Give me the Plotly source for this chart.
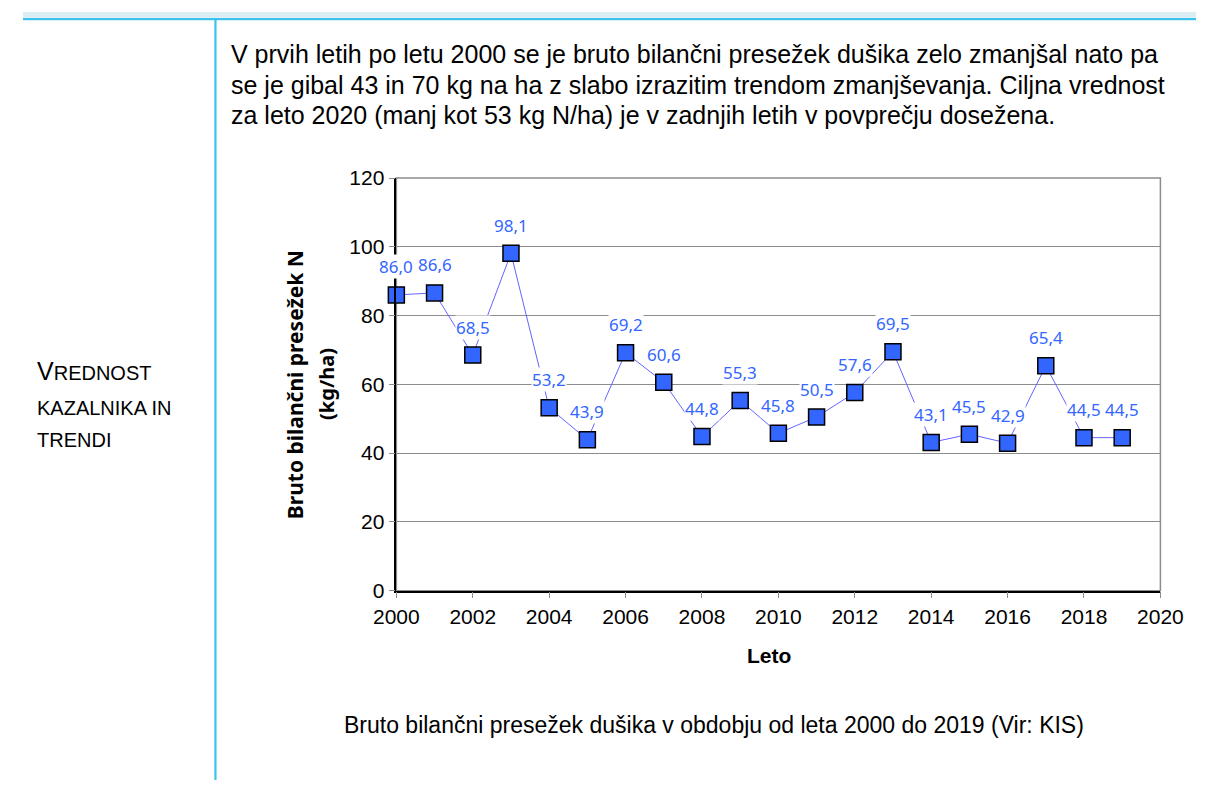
import plotly.graph_objects as go

years = list(range(2000, 2020))
surplus = [86.0, 86.6, 68.5, 98.1, 53.2, 43.9, 69.2, 60.6, 44.8, 55.3,
           45.8, 50.5, 57.6, 69.5, 43.1, 45.5, 42.9, 65.4, 44.5, 44.5]
labels = [f"{v:.1f}".replace(".", ",") for v in surplus]
x_ticks = list(range(2000, 2021, 2))
y_ticks = list(range(0, 121, 20))

paragraph = [
    "V prvih letih po letu 2000 se je bruto bilančni presežek dušika zelo zmanjšal nato pa",
    "se je gibal 43 in 70 kg na ha z slabo izrazitim trendom zmanjševanja. Ciljna vrednost",
    "za leto 2020 (manj kot 53 kg N/ha) je v zadnjih letih v povprečju dosežena.",
]
caption = "Bruto bilančni presežek dušika v obdobju od leta 2000 do 2019 (Vir: KIS)"

W, H = 1219, 791
def px(x):
    return x / W
def py(y):
    return 1 - y / H

fig = go.Figure()
fig.add_trace(go.Scatter(
    x=years, y=surplus, mode="lines+markers",
    line=dict(color="#6464ff", width=1),
    marker=dict(symbol="square", size=16, color="#3366ff",
                line=dict(color="#000000", width=1.5)),
    hoverinfo="x+y", showlegend=False, cliponaxis=False,
))

annotations = []
for x, v, t in zip(years, surplus, labels):
    annotations.append(dict(
        x=x, y=v, xref="x", yref="y", text=t, showarrow=False,
        yshift=28, bgcolor="white", borderpad=0,
        font=dict(family="Noto Sans", size=17, color="#3366ff"),
    ))

SANS = "Liberation Sans, Arial"
para_y = [43, 75, 106]
for t, yy in zip(paragraph, para_y):
    annotations.append(dict(
        x=px(214), y=py(yy), xref="paper", yref="paper", text=t,
        xanchor="left", yanchor="middle", showarrow=False,
        font=dict(family=SANS, size=25, color="#000"),
    ))

left_lines = [
    ("<span style='font-size:25px'>V</span>REDNOST", 370),
    ("KAZALNIKA IN", 408),
    ("TRENDI", 441),
]
for t, yy in left_lines:
    annotations.append(dict(
        x=px(12), y=py(yy), xref="paper", yref="paper", text=t,
        xanchor="left", yanchor="middle", showarrow=False,
        font=dict(family=SANS, size=20, color="#000"),
    ))

annotations.append(dict(
    x=px(283), y=py(384), xref="paper", yref="paper",
    text="<b>Bruto bilančni presežek N</b>", textangle=-90,
    xanchor="center", yanchor="middle", showarrow=False,
    font=dict(family="Noto Sans", size=21, color="#000"),
))
annotations.append(dict(
    x=px(316), y=py(383), xref="paper", yref="paper",
    text="<b>(kg/ha)</b>", textangle=-90,
    xanchor="center", yanchor="middle", showarrow=False,
    font=dict(family="Noto Sans", size=20, color="#000"),
))
annotations.append(dict(
    x=px(775), y=py(663), xref="paper", yref="paper", text="<b>Leto</b>",
    xanchor="center", yanchor="middle", showarrow=False,
    font=dict(family=SANS, size=21, color="#000"),
))
annotations.append(dict(
    x=px(718), y=py(734), xref="paper", yref="paper", text=caption,
    xanchor="center", yanchor="middle", showarrow=False,
    font=dict(family=SANS, size=23, color="#000"),
))

shapes = [
    dict(type="rect", xref="paper", yref="paper", x0=0, x1=1, y0=py(6), y1=1,
         fillcolor="#daedf3", line=dict(width=0), layer="below"),
    dict(type="line", xref="paper", yref="paper", x0=0, x1=1, y0=py(7.3), y1=py(7.3),
         line=dict(color="#3cc1ee", width=2.2)),
    dict(type="line", xref="paper", yref="paper", x0=px(200), x1=px(200), y0=py(7), y1=0,
         line=dict(color="#3cc1ee", width=2.2)),
    dict(type="rect", xref="paper", yref="paper", x0=px(388), x1=px(1182),
         y0=py(596), y1=py(171), line=dict(color="#8c8c8c", width=1.5), layer="below"),
]

fig.update_layout(
    width=W, height=H, autosize=False,
    margin=dict(l=0, r=0, t=0, b=0, pad=0),
    paper_bgcolor="white", plot_bgcolor="white",
    annotations=annotations, shapes=shapes,
    xaxis=dict(
        domain=[px(388), px(1182)], range=[2000, 2020],
        tickvals=x_ticks, ticktext=[str(v) for v in x_ticks],
        ticks="outside", ticklen=6, tickcolor="#8c8c8c", tickwidth=1,
        showline=True, linecolor="#000", linewidth=1.5,
        showgrid=False, zeroline=False,
        tickfont=dict(family=SANS, size=21, color="#000"),
    ),
    yaxis=dict(
        domain=[py(596), py(171)], range=[0, 120],
        tickvals=y_ticks, ticktext=[str(v) for v in y_ticks],
        ticks="outside", ticklen=6, tickcolor="#8c8c8c", tickwidth=1,
        showline=True, linecolor="#000", linewidth=1.5,
        showgrid=True, gridcolor="#8c8c8c", gridwidth=1, zeroline=False,
        tickfont=dict(family=SANS, size=21, color="#000"),
    ),
)

post = """
document.documentElement.style.margin='0';
document.documentElement.style.padding='0';
document.documentElement.style.overflow='hidden';
document.body.style.margin='0';
document.body.style.padding='0';
var gd=document.getElementById('{plot_id}');
gd.style.position='fixed';
gd.style.left='0px';
gd.style.top='0px';
"""
fig.write_html("out.html", config={"displayModeBar": False},
               post_script=post)
